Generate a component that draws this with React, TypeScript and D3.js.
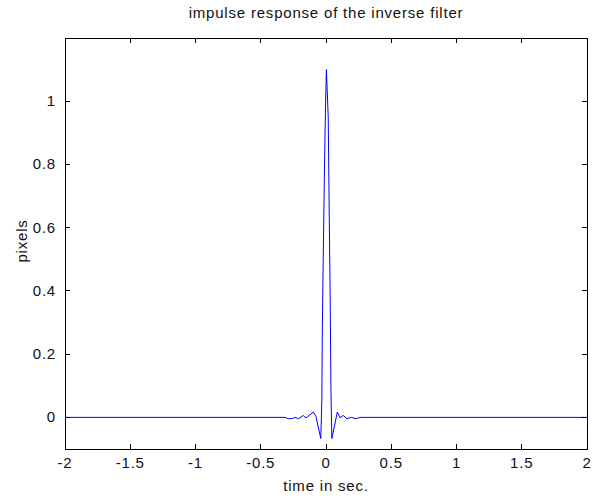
import React from "react";
import * as d3 from "d3";

const times = [-2, -0.314, -0.29, -0.26, -0.24, -0.21, -0.174, -0.153, -0.097, -0.077, -0.04, -0.032, -0.028, -0.021, -0.013, -0.004, 0.003, 0.017, 0.024, 0.032, 0.038, 0.045, 0.087, 0.107, 0.133, 0.159, 0.197, 0.222, 0.27, 2];
const values = [0, 0, -0.004, -0.004, 0, -0.004, 0.006, -0.002, 0.017, 0.003, -0.067, 0.05, 0.29, 0.51, 0.75, 0.98, 1.1, 0.95, 0.67, 0.38, 0.08, -0.067, 0.017, -0.001, 0.006, -0.004, 0, -0.004, 0, 0];
const xTicks = [-2, -1.5, -1, -0.5, 0, 0.5, 1, 1.5, 2];
const yTicks = [0, 0.2, 0.4, 0.6, 0.8, 1];
const xDomain = [-2, 2];
const yDomain = [-0.1, 1.2];
const title = "impulse response of the inverse filter";
const xLabel = "time in sec.";
const yLabel = "pixels";

const W = 592, H = 499;
const L = 65, R = 587, T = 38, B = 449;

export default function App() {
  const x = d3.scaleLinear().domain(xDomain).range([L, R]);
  const y = d3.scaleLinear().domain(yDomain).range([B, T]);
  const pts = times.map((t, i) => [t, values[i]] as [number, number]);
  const line = d3.line<[number, number]>().x(d => x(d[0])).y(d => y(d[1]));
  const font = { fontFamily: "'Liberation Sans', Arial, sans-serif", fontSize: 15, fill: "#111", letterSpacing: "0.8px" };
  const tk = 5;
  return (
    <div style={{ position: "absolute", left: 0, top: 0 }}>
      <svg width={W} height={H} style={{ display: "block", background: "#fff" }}>
        <rect x={0} y={0} width={W} height={H} fill="#fff" />
        <path d={line(pts) || ""} fill="none" stroke="#0000ff" strokeWidth={1} />
        <g shapeRendering="crispEdges" stroke="#000" strokeWidth={1}>
          <rect x={L} y={T} width={R - L} height={B - T} fill="none" />
          {xTicks.map(t => (
            <g key={"x" + t}>
              <line x1={x(t)} x2={x(t)} y1={B} y2={B - tk} />
              <line x1={x(t)} x2={x(t)} y1={T} y2={T + tk} />
            </g>
          ))}
          {yTicks.map(t => (
            <g key={"y" + t}>
              <line x1={L} x2={L + tk} y1={y(t)} y2={y(t)} />
              <line x1={R} x2={R - tk} y1={y(t)} y2={y(t)} />
            </g>
          ))}
        </g>
        <g style={font}>
          {xTicks.map(t => (
            <text key={"xl" + t} x={x(t)} y={B + 19} textAnchor="middle">{String(t)}</text>
          ))}
          {yTicks.map(t => (
            <text key={"yl" + t} x={L - 9} y={y(t) + 5} textAnchor="end">{String(t)}</text>
          ))}
          <text x={(L + R) / 2} y={491} textAnchor="middle">{xLabel}</text>
          <text x={0} y={0} textAnchor="middle" transform={`translate(27, 241) rotate(-90)`}>{yLabel}</text>
          <text x={(L + R) / 2} y={18} textAnchor="middle">{title}</text>
        </g>
      </svg>
    </div>
  );
}
